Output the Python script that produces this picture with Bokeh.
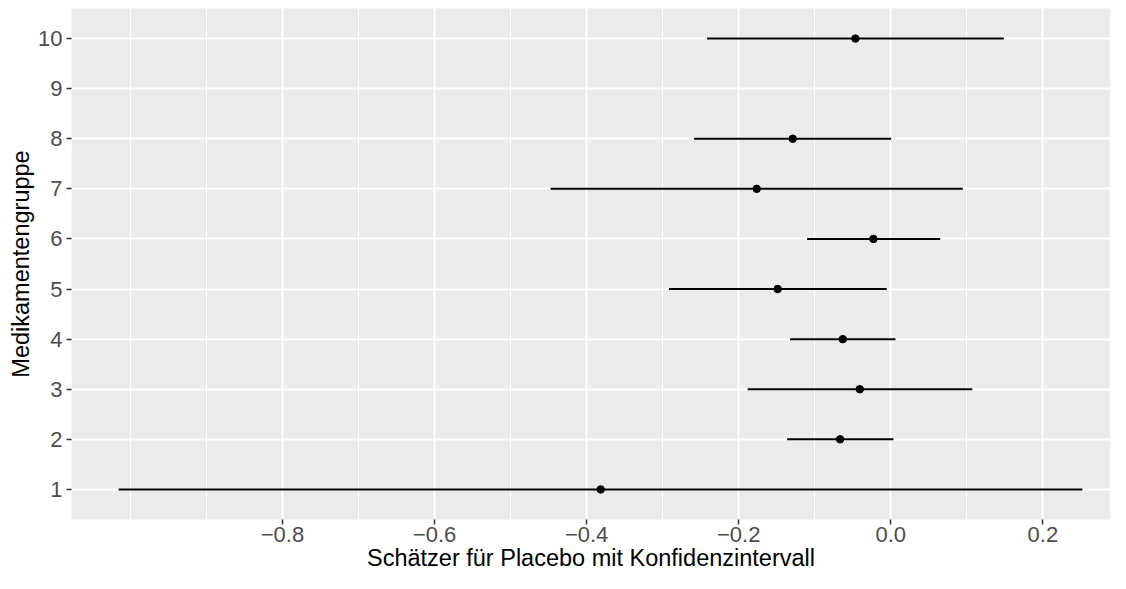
from bokeh.plotting import figure
from bokeh.models import ColumnDataSource, FixedTicker, CustomJSTickFormatter, Range1d
from bokeh.embed import file_html
from bokeh.resources import INLINE

# Data (group 9 has no estimate)
groups = [1, 2, 3, 4, 5, 6, 7, 8, 10]
estimate = [-0.3815, -0.0666, -0.0408, -0.0631, -0.1487, -0.0228, -0.1763, -0.1289, -0.0465]
lower = [-1.0155, -0.1363, -0.1882, -0.1324, -0.2916, -0.1100, -0.4474, -0.2587, -0.2416]
upper = [0.2520, 0.0036, 0.1071, 0.0062, -0.0053, 0.0650, 0.0947, 0.0005, 0.1487]

x_major = [-0.8, -0.6, -0.4, -0.2, 0.0, 0.2]
x_minor = [-1.0, -0.9, -0.7, -0.5, -0.3, -0.1, 0.1, 0.3]
y_ticks = [1, 2, 3, 4, 5, 6, 7, 8, 9, 10]

src = ColumnDataSource(dict(g=groups, est=estimate, lo=lower, hi=upper))

FONT = "Liberation Sans"

p = figure(width=1110, height=573, output_backend="svg", toolbar_location=None,
           x_range=Range1d(-1.0775, 0.289), y_range=Range1d(0.4, 10.6),
           min_border_left=71, min_border_top=8, min_border_right=0, min_border_bottom=40)

p.background_fill_color = "#EBEBEB"
p.border_fill_color = "white"
p.outline_line_color = None

p.segment(x0="lo", y0="g", x1="hi", y1="g", source=src, line_color="black", line_width=2)
p.scatter(x="est", y="g", source=src, size=7.5, color="black")

# axes
p.xaxis.ticker = FixedTicker(ticks=x_major, minor_ticks=x_minor)
p.xaxis.formatter = CustomJSTickFormatter(code="return (tick < -1e-9 ? '\u2212' : '') + Math.abs(tick).toFixed(1);")
p.yaxis.ticker = FixedTicker(ticks=y_ticks, minor_ticks=[])

for ax in (p.xaxis[0], p.yaxis[0]):
    ax.axis_line_color = None
    ax.major_tick_line_color = "#333333"
    ax.major_tick_line_width = 1.5
    ax.major_tick_in = 0
    ax.major_tick_out = 5
    ax.minor_tick_line_color = None
    ax.major_label_text_font = FONT
    ax.major_label_text_font_size = "22px"
    ax.major_label_text_color = "#4D4D4D"
    ax.axis_label_text_font = FONT
    ax.axis_label_text_font_size = "23.5px"
    ax.axis_label_text_font_style = "normal"
    ax.axis_label_text_color = "black"

p.xaxis.axis_label = "Schätzer für Placebo mit Konfidenzintervall"
p.yaxis.axis_label = "Medikamentengruppe"
p.xaxis.major_label_standoff = 2
p.xaxis.axis_label_standoff = 0
p.yaxis.major_label_standoff = 4
p.yaxis.axis_label_standoff = 1

p.xgrid.grid_line_color = "white"
p.xgrid.grid_line_width = 2
p.xgrid.minor_grid_line_color = "white"
p.xgrid.minor_grid_line_width = 1
p.ygrid.grid_line_color = "white"
p.ygrid.grid_line_width = 2

open("out.html", "w").write(file_html(p, INLINE))
